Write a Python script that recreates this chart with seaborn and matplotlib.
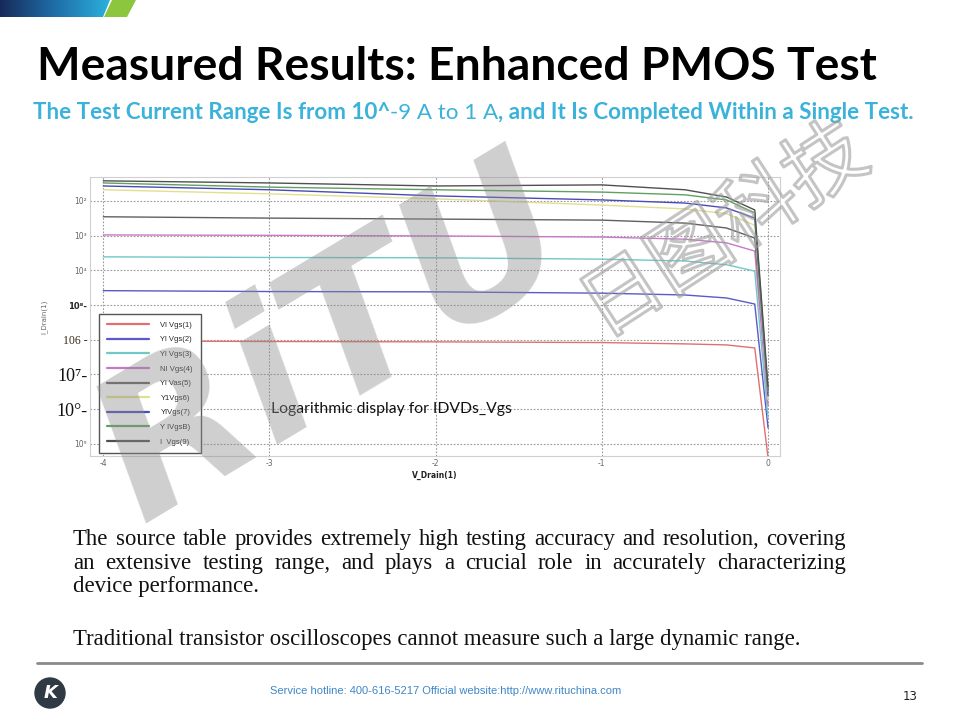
import numpy as np
import pandas as pd
import matplotlib
matplotlib.use("Agg")
import matplotlib.pyplot as plt
import matplotlib.patheffects as pe
from matplotlib.patches import Polygon, Circle
from matplotlib.colors import LinearSegmentedColormap
import seaborn as sns

# ---------------- data ----------------
v_drain = [-4.0, -3.0, -2.0, -1.0, -0.5, -0.25, -0.08, 0.0]
series_labels = ["Vl Vgs(1)", "Yl Vgs(2)", "Yl Vgs(3)", "NI Vgs(4)", "Yl Vas(5)",
                 "Y1Vgs6)", "YIVgs(7)", "Y IVgsB)", "I  Vgs(9)"]
i_vgs1 = [9.3e-7, 8.9e-7, 8.7e-7, 8.3e-7, 7.6e-7, 7.1e-7, 5.8e-7, 4.0e-10]
i_vgs2 = [2.6e-5, 2.45e-5, 2.4e-5, 2.2e-5, 1.95e-5, 1.6e-5, 1.07e-5, 2.9e-9]
i_vgs3 = [2.45e-4, 2.35e-4, 2.3e-4, 2.1e-4, 1.86e-4, 1.45e-4, 9.5e-5, 5.6e-9]
i_vgs4 = [1.05e-3, 1.02e-3, 9.8e-4, 9.1e-4, 7.9e-4, 6.2e-4, 3.6e-4, 1.3e-8]
i_vgs5 = [3.5e-3, 3.2e-3, 3.0e-3, 2.8e-3, 2.3e-3, 1.66e-3, 8.5e-4, 3.5e-8]
i_vgs6 = [2.1e-2, 1.6e-2, 1.15e-2, 7.6e-3, 5.9e-3, 4.3e-3, 2.0e-3, 1.9e-8]
i_vgs7 = [2.7e-2, 2.1e-2, 1.4e-2, 1.07e-2, 8.7e-3, 6.3e-3, 3.2e-3, 2.4e-8]
i_vgs8 = [3.3e-2, 2.5e-2, 2.1e-2, 1.8e-2, 1.5e-2, 1.07e-2, 4.5e-3, 3.2e-8]
i_vgs9 = [3.8e-2, 3.3e-2, 2.7e-2, 2.9e-2, 2.1e-2, 1.3e-2, 5.5e-3, 4.4e-8]
series_values = [i_vgs1, i_vgs2, i_vgs3, i_vgs4, i_vgs5, i_vgs6, i_vgs7, i_vgs8, i_vgs9]
series_colors = ["#e07070", "#5a5ac8", "#70c8c8", "#c878c8", "#606060",
                 "#e0e090", "#4a4ab8", "#60a060", "#505050"]

x_ticks = [-4, -3, -2, -1, 0]
x_tick_labels = ["-4", "-3", "-2", "-1", "0"]
y_ticks = [1e-2, 1e-3, 1e-4, 1e-5, 1e-6, 1e-7, 1e-8, 1e-9]
y_tick_labels = ["10²", "10³", "10⁴", "10⁸-", "106 -", "10⁷-", "10°-", "10⁹"]

title = "Measured Results: Enhanced PMOS Test"
subtitle_pieces = [("The Test Current Range Is from 10^", "bold"),
                   ("-9 A to 1 A", "normal"),
                   (", and It Is Completed Within a Single Test.", "bold")]
body_lines = ["The source table provides extremely high testing accuracy and resolution, covering",
              "an extensive testing range, and plays a crucial role in accurately characterizing",
              "device performance."]
body_last = "Traditional transistor oscilloscopes cannot measure such a large dynamic range."
footer = "Service hotline: 400-616-5217 Official website:http://www.rituchina.com"
page_no = "13"
annotation = "Logarithmic display for IDVDs_Vgs"

rows = []
for lab, vals in zip(series_labels, series_values):
    for v, i in zip(v_drain, vals):
        rows.append({"V_Drain": v, "I_Drain": i, "series": lab})
df = pd.DataFrame(rows)

# ---------------- figure ----------------
sns.set_style("white")
plt.rcParams["font.family"] = ["DejaVu Sans"]
W, H = 960, 720
fig = plt.figure(figsize=(9.6, 7.2), dpi=100)
renderer = fig.canvas.get_renderer()

def fx(px):
    return px / W

def fy(py):
    return 1 - py / H

ax = fig.add_axes([fx(90), fy(456), (780 - 90) / W, (456 - 177) / H])
ax.set_yscale("log")
sns.lineplot(data=df, x="V_Drain", y="I_Drain", hue="series", hue_order=series_labels,
             palette=dict(zip(series_labels, series_colors)), estimator=None,
             linewidth=1.0, ax=ax)
ax.set_xlim(-4.08, 0.072)
ax.set_ylim(10 ** -9.35, 10 ** -1.31)
ax.set_xticks(x_ticks)
ax.set_xticklabels(x_tick_labels)
ax.set_yticks(y_ticks)
ax.set_yticklabels(y_tick_labels)
ax.minorticks_off()
ax.grid(True, which="major", linestyle=(0, (1.5, 1.5)), color="#9a9a9a", linewidth=0.8)
for s in ax.spines.values():
    s.set_color("#d0d0d0")
    s.set_linewidth(0.8)
ax.tick_params(axis="both", length=0, pad=2, labelsize=5.5, labelcolor="#666666")
ylab = ax.get_yticklabels()
for idx, t in enumerate(ylab):
    if idx == 3:
        t.set_fontsize(6); t.set_fontweight("bold"); t.set_color("#222222")
    elif idx == 4:
        t.set_family(["Liberation Serif", "DejaVu Serif"]); t.set_fontsize(8.5); t.set_color("#3a2a1a")
    elif idx in (5, 6):
        t.set_family(["Liberation Serif", "DejaVu Serif"]); t.set_fontsize(13); t.set_color("#111111")
ax.set_xlabel("V_Drain(1)", fontsize=5.5, fontweight="bold", labelpad=2, color="#222222")
ax.set_ylabel("I_Drain(1)", fontsize=5, color="#666666", labelpad=6)

handles, labels = ax.get_legend_handles_labels()
leg = ax.legend(handles, labels, loc="lower left", bbox_to_anchor=(0.008, -0.004),
                fontsize=5.5, handlelength=5.5, handletextpad=1.5, labelspacing=0.95,
                borderpad=1.0, frameon=True, fancybox=False, edgecolor="#555555",
                framealpha=1.0)
leg.get_frame().set_linewidth(1.0)
for ln in leg.get_lines():
    ln.set_linewidth(1.6)
for t in leg.get_texts():
    t.set_family(["Liberation Sans Narrow", "Liberation Sans", "DejaVu Sans"])

ann = ax.text((271 - 90) / 690, (456 - 413) / 279, annotation, transform=ax.transAxes,
              fontsize=10, family=["Lato", "DejaVu Sans"], color="#111111", va="baseline")
w = ann.get_window_extent(renderer=renderer).width
ann.set_fontsize(10 * 240 / w)

# ---------------- text helpers ----------------
def width_of(t):
    return t.get_window_extent(renderer=renderer).width

def fit_text(s, x0, x1, y, size0=20, **kw):
    t = fig.text(fx(x0), fy(y), s, fontsize=size0, va="baseline", ha="left", **kw)
    t.set_fontsize(size0 * (x1 - x0) / width_of(t))
    return t

# title
fit_text(title, 37, 876, 80, family=["Lato", "DejaVu Sans"], fontweight="bold", color="black")

# subtitle with mixed weights
sub_color = "#3ab2da"
ts = [fig.text(0, 0, s, fontsize=14, fontweight=wt, color=sub_color, va="baseline",
               family=["Lato", "DejaVu Sans"]) for s, wt in subtitle_pieces]
tot = sum(width_of(t) for t in ts)
scale = (917 - 33) / tot
x = 33
for t in ts:
    t.set_fontsize(14 * scale)
    t.set_position((fx(x), fy(119)))
    x += width_of(t)

# body text (serif, justified)
serif = ["Liberation Serif", "DejaVu Serif"]
tl = fit_text(body_last, 73, 800, 645, family=serif, color="#111111")
bsize = tl.get_fontsize()

def justify(line, x0, x1, y):
    words = line.split()
    tw = [fig.text(0, 0, wd, fontsize=bsize, family=serif, color="#111111", va="baseline")
          for wd in words]
    ws = [width_of(t) for t in tw]
    gap = (x1 - x0 - sum(ws)) / (len(words) - 1)
    xx = x0
    for t, wd in zip(tw, ws):
        t.set_position((fx(xx), fy(y)))
        xx += wd + gap

justify(body_lines[0], 73, 846, 545)
justify(body_lines[1], 73, 846, 569)
fig.text(fx(73), fy(592), body_lines[2], fontsize=bsize, family=serif, color="#111111", va="baseline")

# footer
fig.add_artist(plt.Line2D([fx(37), fx(922)], [fy(663), fy(663)], color="#8a8a8a", linewidth=2.0))
fit_text(footer, 270, 620, 694, size0=8,
         family=["Liberation Sans Narrow", "Liberation Sans", "DejaVu Sans"], color="#3f86c8")
fig.text(fx(918), fy(700), page_no, fontsize=8.5, ha="right", va="baseline", color="#222222")

# logo (circle in inch units so it stays round)
logo = Circle((0.50, (H - 693) / 100), 0.15, transform=fig.dpi_scale_trans, color="#2f3a45")
fig.add_artist(logo)
fig.text(fx(51), fy(693), "K", fontsize=13, fontweight="bold", color="white",
         ha="center", va="center", fontstyle="italic")

# top banner
axb = fig.add_axes([0, fy(17), 140 / W, 17 / H])
axb.set_xlim(0, 140)
axb.set_ylim(17, 0)
axb.axis("off")
grad = np.linspace(0, 1, 256).reshape(1, -1)
cmap = LinearSegmentedColormap.from_list("b", ["#172a5a", "#1f6ea8", "#2bb0dc"])
im = axb.imshow(grad, extent=[0, 110, 17, 0], aspect="auto", cmap=cmap)
blue_poly = Polygon([(0, 0), (110, 0), (103, 17), (0, 17)], closed=True, transform=axb.transData,
                    facecolor="none", edgecolor="none")
axb.add_patch(blue_poly)
im.set_clip_path(blue_poly)
axb.add_patch(Polygon([(112, 0), (136, 0), (127, 17), (104, 17)], closed=True,
                      facecolor="#8cc63f", edgecolor="none"))

# watermark
fig.text(fx(335), fy(345), "RiTU", fontsize=142, fontweight="bold", fontstyle="italic",
         color=(0.55, 0.55, 0.55), alpha=0.42, rotation=31, ha="center", va="center",
         zorder=10)
wm2 = fig.text(fx(725), fy(232), "日图科技", fontsize=58, family=["Noto Sans CJK SC", "DejaVu Sans"],
               color=(1, 1, 1, 0), rotation=33, ha="center", va="center", zorder=10)
wm2.set_path_effects([pe.Stroke(linewidth=2.2, foreground=(0.62, 0.62, 0.62, 0.6)), pe.Normal()])

fig.savefig("out.png", dpi=100)
